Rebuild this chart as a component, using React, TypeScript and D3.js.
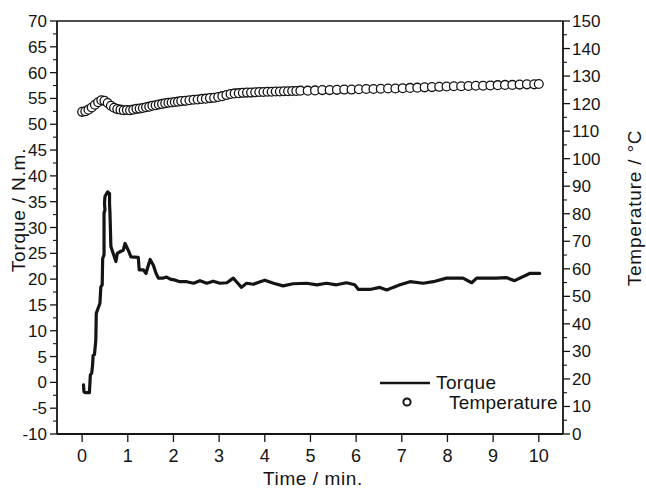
import * as d3 from 'd3';
import React from 'react';

// torque trace (time in min, torque in N.m)
const torqueTime = [
  0.03, 0.04, 0.07, 0.16, 0.18, 0.21, 0.23, 0.24, 0.27, 0.30, 0.31, 0.36, 0.39, 0.41, 0.44, 0.45,
  0.48, 0.48, 0.50, 0.49, 0.50, 0.56, 0.60, 0.60, 0.61, 0.63, 0.69, 0.74, 0.77, 0.83, 0.90, 0.94,
  1.01, 1.07, 1.23, 1.25, 1.34, 1.40, 1.43, 1.49, 1.56, 1.62, 1.67, 1.78, 1.85, 1.93, 2.04, 2.14,
  2.29, 2.44, 2.58, 2.73, 2.87, 3.02, 3.17, 3.31, 3.38, 3.49, 3.60, 3.75, 3.90, 4.00, 4.19, 4.40,
  4.62, 4.92, 5.14, 5.35, 5.57, 5.79, 5.97, 6.05, 6.30, 6.52, 6.67, 6.81, 6.96, 7.18, 7.47, 7.69,
  7.98, 8.34, 8.53, 8.64, 9.07, 9.29, 9.47, 9.80, 10.02,
];
const torqueValue = [
  -0.5, -1.8, -2.0, -2.0, 1.4, 1.8, 3.4, 5.2, 5.4, 8.2, 13.4, 14.6, 15.3, 18.5, 18.9, 24.0,
  24.7, 32.8, 33.4, 34.7, 36.0, 36.9, 36.6, 34.7, 32.8, 26.3, 24.7, 23.4, 25.0, 25.3, 25.6, 26.9,
  25.6, 24.3, 24.2, 21.8, 21.8, 21.1, 22.1, 23.8, 22.7, 21.1, 20.2, 20.2, 20.4, 20.0, 19.8, 19.5,
  19.5, 19.2, 19.7, 19.2, 19.6, 19.2, 19.3, 20.2, 19.5, 18.4, 19.2, 19.0, 19.5, 19.8, 19.2, 18.7,
  19.1, 19.2, 18.9, 19.2, 18.9, 19.3, 18.9, 18.0, 18.0, 18.4, 17.9, 18.4, 18.9, 19.5, 19.2, 19.5,
  20.2, 20.2, 19.3, 20.2, 20.2, 20.3, 19.7, 21.1, 21.1,
];

// temperature samples (time in min, temperature in °C)
const tempTime = [
  0, 0.07, 0.14, 0.21, 0.28, 0.35, 0.42, 0.49, 0.56, 0.63, 0.70, 0.77, 0.84, 0.91, 0.98, 1.05,
  1.12, 1.19, 1.26, 1.33, 1.40, 1.47, 1.54, 1.61, 1.68, 1.75, 1.82, 1.89, 1.96, 2.03, 2.10, 2.17,
  2.26, 2.35, 2.44, 2.53, 2.62, 2.71, 2.80, 2.89, 2.98, 3.07, 3.16, 3.25, 3.34, 3.43, 3.52, 3.61,
  3.70, 3.79, 3.88, 3.97, 4.06, 4.15, 4.24, 4.33, 4.42, 4.51, 4.60, 4.69, 4.78,
  4.94, 5.10, 5.26, 5.42, 5.58, 5.74, 5.90, 6.06, 6.22, 6.38, 6.54, 6.70, 6.86, 7.02, 7.18, 7.34,
  7.50, 7.66, 7.82, 7.98, 8.14, 8.30, 8.46, 8.62, 8.78, 8.94, 9.10, 9.26, 9.42, 9.58, 9.74, 9.90, 10.0,
];
const tempValue = [
  117.0, 117.2, 117.8, 118.6, 119.6, 120.5, 121.2, 121.0, 120.2, 119.2, 118.5, 118.0, 117.8, 117.6, 117.7, 117.6,
  117.8, 118.1, 118.2, 118.4, 118.7, 118.9, 119.2, 119.4, 119.7, 119.9, 120.1, 120.3, 120.4, 120.6, 120.7, 120.9,
  121.0, 121.2, 121.4, 121.5, 121.7, 121.8, 122.0, 122.1, 122.4, 122.7, 123.1, 123.5, 123.7, 123.8, 123.9, 124.0,
  124.0, 124.1, 124.2, 124.2, 124.3, 124.3, 124.4, 124.4, 124.5, 124.5, 124.6, 124.6, 124.7,
  124.7, 124.8, 124.9, 124.9, 125.0, 125.1, 125.1, 125.2, 125.3, 125.3, 125.4, 125.5, 125.5, 125.6, 125.7, 125.8,
  125.9, 126.0, 126.1, 126.2, 126.3, 126.3, 126.4, 126.5, 126.5, 126.6, 126.7, 126.8, 126.8, 126.9, 127.0, 127.0, 127.1,
];

const timeTicks = [0, 1, 2, 3, 4, 5, 6, 7, 8, 9, 10];
const torqueTicks = [-10, -5, 0, 5, 10, 15, 20, 25, 30, 35, 40, 45, 50, 55, 60, 65, 70];
const tempTicks = [0, 10, 20, 30, 40, 50, 60, 70, 80, 90, 100, 110, 120, 130, 140, 150];

const W = 646;
const H = 488;
const plot = { left: 57, right: 563, top: 21, bottom: 434 };
const font = '"Liberation Sans", Arial, sans-serif';
const ink = '#141414';

const App = () => {
  const x = d3.scaleLinear().domain([-0.55, 10.53]).range([plot.left, plot.right]);
  const yT = d3.scaleLinear().domain([-10, 70]).range([plot.bottom, plot.top]);
  const yC = d3.scaleLinear().domain([0, 150]).range([plot.bottom, plot.top]);

  const torque = torqueTime.map((t, i) => [t, torqueValue[i]] as [number, number]);
  const line = d3.line<[number, number]>()
    .x(d => x(d[0]))
    .y(d => yT(d[1]));

  const torqueMinor = d3.range(-10, 70.1, 2.5).filter(v => v % 5 !== 0);
  const tempMinor = d3.range(5, 150, 10);

  return (
    <svg width={W} height={H} style={{ position: 'absolute', left: 0, top: 0, background: '#fff' }}
      fontFamily={font} fill={ink}>
      {/* frame */}
      <line x1={plot.left} x2={plot.right} y1={plot.top} y2={plot.top} stroke={ink} strokeWidth={1.6} />
      <line x1={plot.left} x2={plot.right} y1={plot.bottom} y2={plot.bottom} stroke={ink} strokeWidth={1.8} />
      <line x1={plot.left} x2={plot.left} y1={plot.top} y2={plot.bottom} stroke={ink} strokeWidth={1.8} />
      <line x1={plot.right} x2={plot.right} y1={plot.top} y2={plot.bottom} stroke={ink} strokeWidth={1.8} />

      {/* left axis */}
      {torqueTicks.map(v => (
        <g key={'l' + v}>
          <line x1={plot.left - 7} x2={plot.left} y1={yT(v)} y2={yT(v)} stroke={ink} strokeWidth={1.3} />
          <text x={plot.left - 10} y={yT(v) + 6} fontSize={17} textAnchor="end">{v}</text>
        </g>
      ))}
      {torqueMinor.map(v => (
        <line key={'lm' + v} x1={plot.left - 4} x2={plot.left} y1={yT(v)} y2={yT(v)} stroke={ink} strokeWidth={1.1} />
      ))}

      {/* right axis */}
      {tempTicks.map(v => (
        <g key={'r' + v}>
          <line x1={plot.right} x2={plot.right + 7} y1={yC(v)} y2={yC(v)} stroke={ink} strokeWidth={1.3} />
          <text x={plot.right + 9} y={yC(v) + 6} fontSize={17}>{v}</text>
        </g>
      ))}
      {tempMinor.map(v => (
        <line key={'rm' + v} x1={plot.right} x2={plot.right + 4} y1={yC(v)} y2={yC(v)} stroke={ink} strokeWidth={1.1} />
      ))}

      {/* bottom axis */}
      {timeTicks.map(t => (
        <g key={'b' + t}>
          <line x1={x(t)} x2={x(t)} y1={plot.bottom} y2={plot.bottom + 8} stroke={ink} strokeWidth={1.3} />
          <text x={x(t)} y={plot.bottom + 28} fontSize={18} textAnchor="middle">{t}</text>
        </g>
      ))}

      {/* axis titles */}
      <text x={(plot.left + plot.right) / 2 + 3} y={485} fontSize={19} letterSpacing={0.6} textAnchor="middle">Time / min.</text>
      <text transform={`translate(25,${210}) rotate(-90)`} fontSize={19} letterSpacing={0.8} textAnchor="middle">Torque / N.m.</text>
      <text transform={`translate(641,${208}) rotate(-90)`} fontSize={19} letterSpacing={0.8} textAnchor="middle">Temperature / °C</text>

      {/* temperature markers */}
      {tempTime.map((t, i) => (
        <circle key={'c' + i} cx={x(t)} cy={yC(tempValue[i])} r={4.4} fill="#fff" stroke={ink} strokeWidth={1.3} />
      ))}

      {/* torque line */}
      <path d={line(torque) ?? ''} fill="none" stroke={ink} strokeWidth={3.2} strokeLinejoin="round" strokeLinecap="round" />

      {/* legend */}
      <line x1={380} x2={430} y1={383} y2={383} stroke={ink} strokeWidth={2.6} />
      <text x={436} y={389} fontSize={19} letterSpacing={0.4}>Torque</text>
      <circle cx={407} cy={402} r={3.6} fill="#fff" stroke={ink} strokeWidth={2} />
      <text x={449} y={409} fontSize={19} letterSpacing={0.2}>Temperature</text>
    </svg>
  );
};

export default App;
